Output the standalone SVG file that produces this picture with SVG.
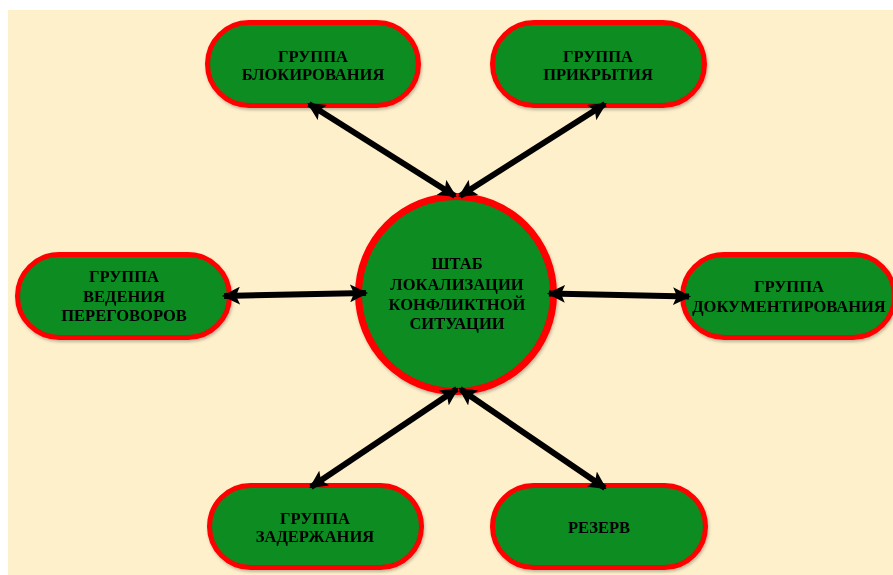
<svg xmlns="http://www.w3.org/2000/svg" width="893" height="575" viewBox="0 0 893 575">
<style>
.pill{fill:#078C21;stroke:#FF0000;stroke-width:5}
.hub{fill:#078C21;stroke:#FF0000;stroke-width:7}
.lbl{font-family:"Liberation Serif","Times New Roman",serif;font-weight:bold;font-size:16.5px;fill:#000;text-anchor:middle}
.con{stroke:#000;stroke-width:6;fill:none;marker-start:url(#ah);marker-end:url(#ah)}
</style>
<defs>
<marker id="ah" viewBox="0 0 18 18" refX="16" refY="9" markerWidth="18" markerHeight="18" markerUnits="userSpaceOnUse" orient="auto-start-reverse">
<path d="M0,0 L18,9 L0,18 L4,9 Z" fill="#000"/>
</marker>
<filter id="sh" x="-10%" y="-10%" width="120%" height="130%">
<feDropShadow dx="1" dy="2" stdDeviation="1.5" flood-color="#000" flood-opacity="0.25"/>
</filter>
</defs>
<rect x="0" y="0" width="893" height="575" fill="#FFFFFF"/>
<rect x="8" y="10" width="885" height="565" fill="#FEF0CB"/>

<g id="node-blok" filter="url(#sh)">
<rect class="pill" x="207.5" y="22.5" width="211" height="83" rx="41.5"/>
<text class="lbl" x="313" y="61.5">ГРУППА</text>
<text class="lbl" x="313" y="80">БЛОКИРОВАНИЯ</text>
</g>
<g id="node-prikr" filter="url(#sh)">
<rect class="pill" x="492.5" y="22.5" width="212" height="83" rx="41.5"/>
<text class="lbl" x="598" y="61.5">ГРУППА</text>
<text class="lbl" x="598" y="80">ПРИКРЫТИЯ</text>
</g>
<g id="node-peregov" filter="url(#sh)">
<rect class="pill" x="17.5" y="254.5" width="212" height="83" rx="41.5"/>
<text class="lbl" x="124" y="282">ГРУППА</text>
<text class="lbl" x="124" y="301.5">ВЕДЕНИЯ</text>
<text class="lbl" x="124" y="320.5">ПЕРЕГОВОРОВ</text>
</g>
<g id="node-dokum" filter="url(#sh)">
<rect class="pill" x="682.5" y="254.5" width="212" height="83" rx="41.5"/>
<text class="lbl" x="789" y="292">ГРУППА</text>
<text class="lbl" x="789" y="311.5">ДОКУМЕНТИРОВАНИЯ</text>
</g>
<g id="node-zader" filter="url(#sh)">
<rect class="pill" x="209.5" y="485.5" width="212" height="82" rx="41"/>
<text class="lbl" x="315" y="524">ГРУППА</text>
<text class="lbl" x="315" y="542">ЗАДЕРЖАНИЯ</text>
</g>
<g id="node-rezerv" filter="url(#sh)">
<rect class="pill" x="492.5" y="485.5" width="213" height="82" rx="41"/>
<text class="lbl" x="599" y="532.5">РЕЗЕРВ</text>
</g>
<g id="node-shtab" filter="url(#sh)">
<circle class="hub" cx="456" cy="294" r="97.5"/>
<text class="lbl" x="457" y="269">ШТАБ</text>
<text class="lbl" x="457" y="289.5">ЛОКАЛИЗАЦИИ</text>
<text class="lbl" x="457" y="309.5">КОНФЛИКТНОЙ</text>
<text class="lbl" x="457" y="329">СИТУАЦИИ</text>
</g>

<g id="connectors">
<line class="con" x1="455" y1="196" x2="309" y2="104"/>
<line class="con" x1="460" y1="196" x2="605" y2="104"/>
<line class="con" x1="366" y1="293" x2="224" y2="296"/>
<line class="con" x1="549" y1="293.5" x2="689" y2="296.5"/>
<line class="con" x1="457" y1="389" x2="311" y2="487"/>
<line class="con" x1="460" y1="389" x2="605" y2="488"/>
</g>
</svg>
